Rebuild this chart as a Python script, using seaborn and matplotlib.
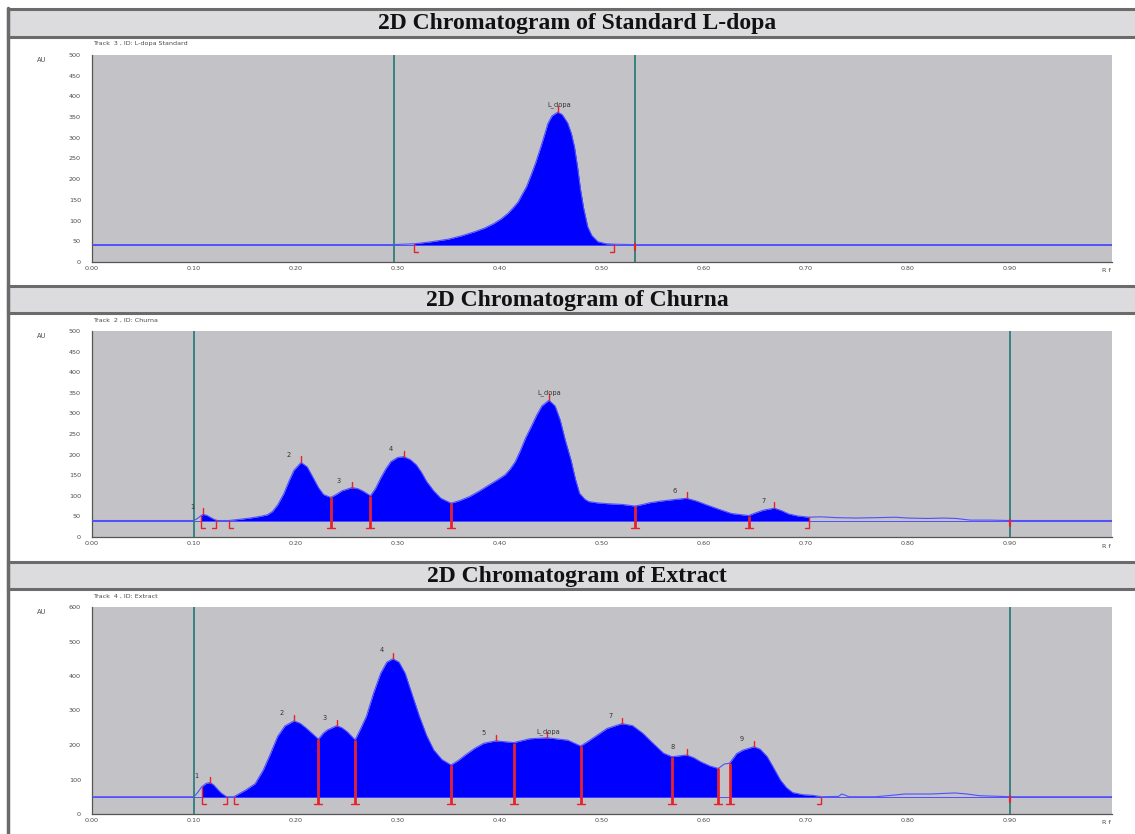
import numpy as np
import pandas as pd
import matplotlib
matplotlib.use("Agg")
import matplotlib.pyplot as plt
import seaborn as sns
from matplotlib.patches import Rectangle
from matplotlib.lines import Line2D

# ---------------- DATA ----------------
titles = ["2D Chromatogram of Standard L-dopa", "2D Chromatogram of Churna",
          "2D Chromatogram of Extract"]
tracks = ["Track  3 , ID: L-dopa Standard", "Track  2 , ID: Churna", "Track  4 , ID: Extract"]

std_rf = [0.000, 0.295, 0.316, 0.333, 0.349, 0.362, 0.375, 0.385, 0.394, 0.401, 0.408,
          0.414, 0.418, 0.421, 0.426, 0.430, 0.435, 0.440, 0.444, 0.447, 0.451, 0.4566,
          0.461, 0.4663, 0.470, 0.473, 0.476, 0.479, 0.482, 0.486, 0.490, 0.496, 0.504,
          0.512, 0.530, 1.000]
std_au = [42, 42, 44, 49, 55, 63, 73, 82, 93, 104, 118,
          134, 146, 160, 182, 207, 240, 278, 310, 335, 353, 362,
          356, 336, 310, 278, 230, 174, 130, 85, 64, 49, 44,
          43, 42, 42]
std_base = 42
std_fill = [(0.316, 0.512)]
std_valleys = []
std_starts = [0.316]
std_ends = [0.512]
std_peaks_rf = [0.4566]
std_peaks_au = [362]
std_labels = ["L_dopa"]
std_label_rf = [0.458]
std_label_au = [380]
std_window = [0.296, 0.532]

ch_rf = [0.000, 0.100, 0.104, 0.107, 0.109, 0.113, 0.118, 0.1215, 0.123, 0.134, 0.145,
         0.155, 0.165, 0.172, 0.177, 0.182, 0.188, 0.193, 0.198, 0.205, 0.211, 0.217,
         0.222, 0.227, 0.234, 0.240, 0.245, 0.255, 0.261, 0.266, 0.273, 0.278, 0.283,
         0.288, 0.293, 0.2995, 0.3056, 0.312, 0.318, 0.323, 0.328, 0.335, 0.342, 0.352,
         0.360, 0.370, 0.380, 0.387, 0.397, 0.405, 0.410, 0.415, 0.420, 0.425, 0.431,
         0.436, 0.441, 0.448, 0.454, 0.459, 0.464, 0.4696, 0.474, 0.478, 0.483, 0.487,
         0.495, 0.5045, 0.520, 0.5325, 0.540, 0.5465, 0.557, 0.5675, 0.583, 0.593,
         0.6025, 0.615, 0.627, 0.6437, 0.651, 0.658, 0.669, 0.676, 0.683, 0.692, 0.703,
         0.714, 0.730, 0.749, 0.770, 0.788, 0.800, 0.819, 0.835, 0.847, 0.861, 0.880,
         0.900, 1.000]
ch_au = [40, 40, 46, 52, 55, 52, 45, 41, 40, 40, 43,
         46, 50, 54, 62, 78, 105, 135, 162, 181, 170, 143,
         120, 103, 96, 104, 112, 120, 117, 111, 100, 118, 143,
         165, 183, 193, 195, 188, 175, 157, 135, 112, 94, 82,
         88, 98, 112, 123, 138, 151, 165, 183, 210, 240, 270,
         296, 318, 332, 318, 284, 235, 187, 140, 106, 92, 86,
         83, 81, 79, 75, 79, 83, 87, 90, 94, 87,
         78, 67, 57, 52, 59, 65, 70, 64, 56, 51, 48,
         49, 47, 46, 47, 48, 46, 45, 46, 45, 41, 41,
         40, 40]
ch_base = 40
ch_fill = [(0.107, 0.1215), (0.134, 0.703)]
ch_valleys = [0.234, 0.273, 0.352, 0.5325, 0.6437]
ch_starts = [0.107, 0.134]
ch_ends = [0.1215, 0.703]
ch_peaks_rf = [0.109, 0.205, 0.255, 0.3056, 0.448, 0.583, 0.669]
ch_peaks_au = [55, 181, 120, 195, 332, 94, 70]
ch_labels = ["1", "2", "3", "4", "L_dopa", "6", "7"]
ch_label_rf = [0.098, 0.193, 0.242, 0.293, 0.448, 0.571, 0.658]
ch_label_au = [72, 200, 137, 214, 350, 112, 88]
ch_window = [0.100, 0.900]

ex_rf = [0.000, 0.100, 0.1035, 0.1076, 0.112, 0.1156, 0.119, 0.123, 0.127, 0.132, 0.139,
         0.145, 0.151, 0.160, 0.168, 0.175, 0.182, 0.189, 0.198, 0.204, 0.210, 0.216,
         0.222, 0.227, 0.231, 0.240, 0.245, 0.250, 0.258, 0.263, 0.269, 0.276, 0.283,
         0.289, 0.295, 0.301, 0.307, 0.314, 0.321, 0.328, 0.335, 0.343, 0.352, 0.359,
         0.366, 0.375, 0.384, 0.396, 0.4135, 0.429, 0.446, 0.4665, 0.479, 0.486, 0.493,
         0.505, 0.5196, 0.530, 0.540, 0.550, 0.5604, 0.5686, 0.583, 0.590, 0.597, 0.606,
         0.614, 0.620, 0.625, 0.632, 0.638, 0.649, 0.655, 0.662, 0.668, 0.675, 0.681,
         0.687, 0.697, 0.707, 0.715, 0.732, 0.735, 0.738, 0.742, 0.768, 0.780, 0.797,
         0.822, 0.846, 0.858, 0.870, 0.891, 0.900, 1.000]
ex_au = [50, 50, 62, 79, 89, 91, 85, 72, 60, 50, 50,
         60, 70, 88, 128, 175, 225, 255, 270, 263, 249, 233,
         217, 235, 244, 256, 250, 239, 215, 245, 283, 350, 408,
         440, 450, 440, 408, 345, 283, 228, 186, 158, 142, 155,
         171, 190, 205, 212, 207, 218, 221, 214, 197, 210, 224,
         248, 262, 256, 234, 205, 176, 166, 171, 163, 151, 139,
         132, 145, 147, 175, 185, 195, 188, 166, 135, 98, 76,
         62, 56, 54, 50, 51, 58, 55, 50, 50, 53, 58,
         58, 61, 58, 53, 51, 50, 50]
ex_base = 50
ex_fill = [(0.1076, 0.132), (0.139, 0.614), (0.625, 0.715)]
ex_valleys = [0.222, 0.258, 0.352, 0.4135, 0.479, 0.5686, 0.614, 0.625]
ex_starts = [0.1076, 0.139]
ex_ends = [0.132, 0.715]
ex_peaks_rf = [0.1156, 0.198, 0.240, 0.295, 0.396, 0.446, 0.5196, 0.583, 0.649]
ex_peaks_au = [91, 270, 256, 450, 212, 221, 262, 171, 195]
ex_labels = ["1", "2", "3", "4", "5", "L_dopa", "7", "8", "9"]
ex_label_rf = [0.102, 0.186, 0.228, 0.284, 0.384, 0.447, 0.508, 0.569, 0.637]
ex_label_au = [111, 292, 277, 474, 234, 240, 284, 193, 216]
ex_window = [0.100, 0.900]

xtick_vals = [0.00, 0.10, 0.20, 0.30, 0.40, 0.50, 0.60, 0.70, 0.80, 0.90]
xtick_labels = ["0.00", "0.10", "0.20", "0.30", "0.40", "0.50", "0.60", "0.70", "0.80", "0.90"]

# ---------------- STYLE / LAYOUT ----------------
sns.set_style("white")
plt.rcParams["font.family"] = ["DejaVu Sans"]

W, H = 1135, 834
fig = plt.figure(figsize=(W / 100, H / 100), dpi=100)
fig.patch.set_facecolor("white")

def fx(px):
    return px / W

def fy(py):
    return 1 - py / H

BG = "#c3c2c6"
BLUE = "#0000ff"
LINE = "#5050ff"
RED = "#e5232d"
TEAL = "#2e7d7b"
FRAME = "#6b6b6b"
TXT = "#4a4a4a"

# panel geometry in pixel units: (header_top, header_bottom, axes_top, axes_bottom)
panels_px = [(9, 37, 55, 262), (286, 313, 331, 537), (562, 589, 607, 814)]
ax_left, ax_right = 92, 1112

datasets = [
    dict(rf=std_rf, au=std_au, base=std_base, fill=std_fill, valleys=std_valleys,
         starts=std_starts, ends=std_ends, prf=std_peaks_rf, pau=std_peaks_au,
         labels=std_labels, lrf=std_label_rf, lau=std_label_au, window=std_window,
         ymax=500, ystep=50, extra_tick=[0.532]),
    dict(rf=ch_rf, au=ch_au, base=ch_base, fill=ch_fill, valleys=ch_valleys,
         starts=ch_starts, ends=ch_ends, prf=ch_peaks_rf, pau=ch_peaks_au,
         labels=ch_labels, lrf=ch_label_rf, lau=ch_label_au, window=ch_window,
         ymax=500, ystep=50, extra_tick=[0.900]),
    dict(rf=ex_rf, au=ex_au, base=ex_base, fill=ex_fill, valleys=ex_valleys,
         starts=ex_starts, ends=ex_ends, prf=ex_peaks_rf, pau=ex_peaks_au,
         labels=ex_labels, lrf=ex_label_rf, lau=ex_label_au, window=ex_window,
         ymax=600, ystep=100, extra_tick=[0.900]),
]

# outer left frame line
fig.add_artist(Line2D([fx(8), fx(8)], [fy(8), fy(834)], color=FRAME, lw=2.5,
                      transform=fig.transFigure))

for i, (d, (ht, hb, at, ab)) in enumerate(zip(datasets, panels_px)):
    # header bar
    fig.add_artist(Rectangle((fx(8), fy(hb)), fx(1135 - 8) + 0.01, (hb - ht) / H,
                             transform=fig.transFigure, facecolor="#dcdbde",
                             edgecolor=FRAME, lw=2.2))
    fig.text(fx(577), fy((ht + hb) / 2 + 1), titles[i], ha="center", va="center",
             family=["Liberation Serif"], weight="bold", fontsize=17, color="#111111")
    fig.text(fx(93), fy(at - 11), tracks[i], ha="left", va="center", fontsize=4.6,
             color=TXT)
    fig.text(fx(42), fy(at + 5), "AU", ha="center", va="center", fontsize=4.8, color=TXT)
    fig.text(fx(1106), fy(ab + 9), "R f", ha="center", va="center", fontsize=4.6,
             color=TXT)

    ax = fig.add_axes([fx(ax_left), fy(ab), (ax_right - ax_left) / W, (ab - at) / H])
    ax.set_facecolor(BG)
    rf = np.array(d["rf"], dtype=float)
    au = np.array(d["au"], dtype=float)
    base = d["base"]
    ymax = d["ymax"]
    px_per_au = (ab - at) / ymax
    au_per_px = 1 / px_per_au
    rf_per_px = 1.0 / (ax_right - ax_left)

    # filled peaks
    for (x0, x1) in d["fill"]:
        m = (rf >= x0 - 1e-9) & (rf <= x1 + 1e-9)
        ax.fill_between(rf[m], base, au[m], color=BLUE, lw=0, zorder=2)

    # trace line
    df = pd.DataFrame({"Rf": rf, "AU": au})
    sns.lineplot(data=df, x="Rf", y="AU", ax=ax, color=LINE, lw=0.8, sort=False,
                 estimator=None, zorder=3)
    # baseline
    ax.axhline(base, color=LINE, lw=0.7, zorder=1.5)

    # integration window lines
    for w in d["window"]:
        ax.axvline(w, color=TEAL, lw=1.3, zorder=4)

    drop = 7 * au_per_px
    foot = 4 * rf_per_px
    # valley cut lines
    for v in d["valleys"]:
        top = np.interp(v, rf, au)
        ax.plot([v, v], [base - drop, top], color=RED, lw=2.0, zorder=5,
                solid_capstyle="butt")
        ax.plot([v - foot, v + foot], [base - drop, base - drop], color=RED, lw=1.0,
                zorder=5)
    # start / end brackets
    for s in d["starts"]:
        top = max(np.interp(s, rf, au), base)
        ax.plot([s, s, s + foot], [top, base - drop, base - drop], color=RED, lw=1.0,
                zorder=5)
    for e in d["ends"]:
        top = max(np.interp(e, rf, au), base)
        ax.plot([e, e, e - foot], [top, base - drop, base - drop], color=RED, lw=1.0,
                zorder=5)
    for t in d["extra_tick"]:
        ax.plot([t, t], [base - 5 * au_per_px, base + 1 * au_per_px], color=RED, lw=1.6,
                zorder=5)
    # peak ticks
    for p, a in zip(d["prf"], d["pau"]):
        ax.plot([p, p], [a, a + 6 * au_per_px], color=RED, lw=1.0, zorder=5)
    # peak labels
    for lab, x, y in zip(d["labels"], d["lrf"], d["lau"]):
        ax.text(x, y, lab, ha="center", va="center", fontsize=4.8, color="#333333",
                zorder=6)

    ax.set_xlim(0, 1.0)
    ax.set_ylim(0, ymax)
    ax.set_xticks(xtick_vals)
    ax.set_xticklabels(xtick_labels)
    ax.set_yticks(np.arange(0, ymax + 1, d["ystep"]))
    ax.set_xlabel("")
    ax.set_ylabel("")
    ax.tick_params(axis="both", labelsize=4.6, labelcolor=TXT, color="#555555",
                   width=0.6)
    ax.tick_params(axis="y", length=5, direction="out", pad=3)
    ax.tick_params(axis="x", length=3, direction="inout", pad=1.5)
    for s in ["top", "right"]:
        ax.spines[s].set_visible(False)
    for s in ["left", "bottom"]:
        ax.spines[s].set_visible(True)
        ax.spines[s].set_color("#555555")
        ax.spines[s].set_linewidth(0.9)
    ax.grid(False)

fig.savefig("out.png", dpi=100, facecolor="white")
